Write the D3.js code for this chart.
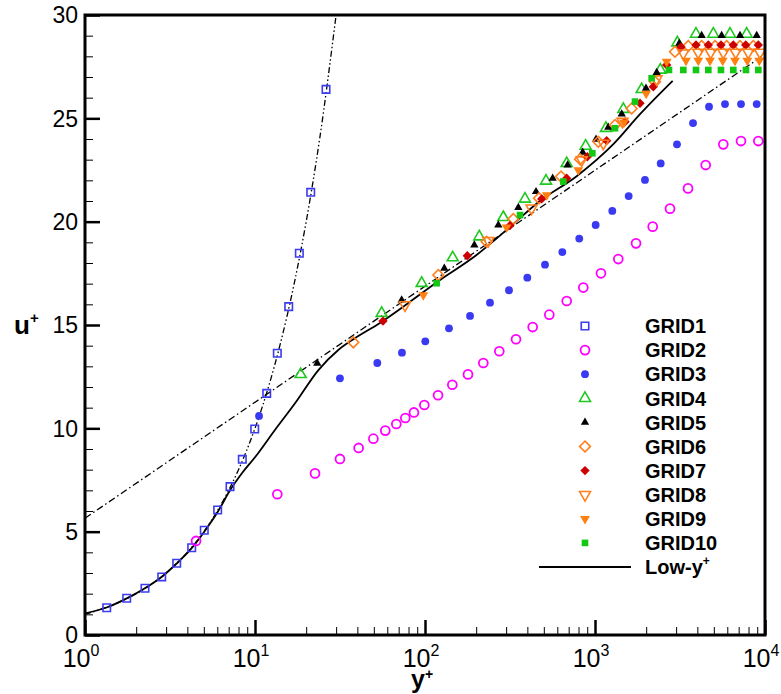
<!DOCTYPE html>
<html>
<head>
<meta charset="utf-8">
<script src="https://cdn.jsdelivr.net/npm/d3@7/dist/d3.min.js"></script>
<style>
  body { margin: 0; background: #fff; }
  svg { display: block; font-family: "Liberation Sans", Arial, sans-serif; }
</style>
</head>
<body>
<svg id="chart" width="781" height="694"></svg>
<script>
// Mean velocity profiles u+ vs y+ for ten grids, [y+, u+]
const grid1 = [[1.342,1.32],[1.759,1.78],[2.254,2.26],[2.827,2.81],[3.463,3.47],[4.242,4.22],[5.03,5.07],[6.03,6.05],[7.13,7.18],[8.42,8.50],[9.96,9.97],[11.72,11.69],[13.53,13.63],[15.79,15.89],[18.23,18.47],[21.27,21.42],[26.17,26.40]];
const grid2 = [[4.50,4.55],[13.53,6.81],[22.54,7.82],[31.6,8.52],[40.7,9.05],[49.7,9.50],[58.4,9.89],[67.8,10.21],[76.6,10.50],[86.1,10.77],[99.1,11.13],[119.3,11.60],[144.8,12.11],[179,12.61],[220.3,13.16],[273.6,13.73],[343,14.31],[430,14.90],[538.5,15.50],[681.6,16.16],[853.5,16.81],[1084,17.50],[1371,18.19],[1743,18.95],[2185,19.76],[2762,20.63],[3525,21.61],[4479,22.74],[5685,23.74],[7225,23.90],[9134,23.90]];
const grid3 = [[10.56,10.60],[31.6,12.42],[52.4,13.16],[73.2,13.66],[100.4,14.21],[138.4,14.84],[184,15.44],[241.2,16.08],[311.9,16.68],[399.8,17.29],[508,17.92],[642.4,18.53],[808,19.18],[1009,19.84],[1264,20.52],[1578,21.24],[1968,22.02],[2435,22.82],[3036,23.74],[3772,24.77],[4685,25.56],[5817,25.69],[7225,25.69],[8935,25.69]];
const grid4 = [[18.56,12.61],[55.6,15.57],[95.6,17.02],[145.5,18.26],[208.7,19.27],[288.9,20.21],[387.3,21.10],[515,21.97],[681.6,22.82],[881,23.66],[1160,24.52],[1468,25.44],[1882,26.40],[2423,27.34],[3050,28.66],[3927,29.08],[4966,29.08],[6223,29.08],[7801,29.08]];
const grid5 = [[23.25,13.15],[72.9,16.21],[129.9,17.74],[195.1,18.87],[270,19.84],[354,20.68],[449.8,21.45],[563.6,22.10],[690,22.74],[846.5,23.36],[1014,23.98],[1197,24.56],[1436,25.21],[1995,26.45],[2306,27.21],[3134,28.63],[4241,29.0],[5559,29.0],[7129,29.0],[8935,29.0]];
const grid6 = [[37.87,14.16],[119.8,17.42],[230.5,19.03],[330.8,20.13],[468.3,21.13],[631,22.18],[816,23.02],[1046,23.87],[1311,24.68],[1643,25.48],[2254,26.77],[2955,28.22],[3539,28.5],[4243,28.5],[5080,28.5],[5953,28.5],[7127,28.5],[8535,28.5]];
const grid7 = [[56.6,15.19],[177.4,18.35],[316,19.81],[485.7,21.10],[681,22.10],[901,23.14],[1171,23.92],[1502,24.84],[1839,25.73],[2203,26.53],[2640,27.58],[3206,28.45],[3927,28.55],[4641,28.55],[5508,28.55],[6510,28.55],[7700,28.55],[9134,28.55]];
const grid8 = [[76.3,15.97],[235.8,19.08],[423.6,20.65],[835,22.98],[1119,23.79],[1450,24.85],[2300,26.9],[3307,28.15],[4051,28.19],[4793,28.19],[5685,28.19],[6724,28.19],[7977,28.19],[9346,28.19]];
const grid9 = [[97.8,16.45],[302,19.73],[520,21.29],[798,22.50],[1480,24.8],[2000,26.2],[2640,27.74],[3430,27.79],[4051,27.79],[4748,27.79],[5638,27.79],[6661,27.79],[7869,27.79],[9258,27.79]];
const grid10 = [[117.1,17.02],[362.2,20.32],[651,21.94],[964.6,23.31],[1311,24.52],[1719,25.81],[2154,26.94],[2724,27.34],[3307,27.34],[3927,27.34],[4641,27.34],[5508,27.34],[6510,27.34],[7727,27.34],[9134,27.34]];

// Low-y+ model profile
const lowYPlus = [[1,1.05],[1.34,1.33],[1.76,1.77],[2.25,2.26],[2.83,2.82],[3.46,3.46],[4.24,4.2],[5.03,5.0],[6.03,5.95],[7.13,7.0],[8.42,7.85],[10,8.6],[13.1,9.92],[17.2,11.21],[23.6,12.82],[30.9,13.79],[38.7,14.36],[54.4,15.1],[122.5,17.18],[201,18.39],[302,19.6],[474,21.0],[780,22.2],[1282,23.75],[1840,25.2],[2863,26.81]];
// Viscous sublayer u+ = y+
const viscousLaw = [[1,1],[1.5,1.5],[2,2],[3,3],[4,4],[5,5],[6,6],[7,7],[8,8],[10,10],[12,12],[14,14],[17,17],[20,20],[24,24],[30,30]];
// Log law
const logLaw = [[1,5.65],[10000,28.1]];

const seriesNames = ["GRID1","GRID2","GRID3","GRID4","GRID5","GRID6","GRID7","GRID8","GRID9","GRID10"];
const yTickValues = [0,5,10,15,20,25,30];
const xTickValues = [1,10,100,1000,10000];
const xTickExponents = ["0","1","2","3","4"];

const allSeries = [grid1,grid2,grid3,grid4,grid5,grid6,grid7,grid8,grid9,grid10];

const markerStyles = [
  {shape:"square",   size:56, fill:"none",    stroke:"#3b3bf0", sw:1.6},
  {shape:"circle",   size:62, fill:"none",    stroke:"#ff00ff", sw:1.8},
  {shape:"circle",   size:48, fill:"#3a3af2", stroke:"none",    sw:0},
  {shape:"triangle", size:52, fill:"none",    stroke:"#1ec81e", sw:1.6},
  {shape:"triangle", size:30, fill:"#000",    stroke:"none",    sw:0},
  {shape:"diamond",  size:58, fill:"none",    stroke:"#ff7f1e", sw:1.6},
  {shape:"diamond",  size:44, fill:"#cc0000", stroke:"none",    sw:0},
  {shape:"down",     size:52, fill:"none",    stroke:"#ff7f1e", sw:1.6},
  {shape:"down",     size:42, fill:"#ff7f0f", stroke:"none",    sw:0},
  {shape:"square",   size:44, fill:"#12c812", stroke:"none",    sw:0}
];

const svg = d3.select("#chart");
const x = d3.scaleLog().domain([1, 1e4]).range([85, 765]);
const y = d3.scaleLinear().domain([0, 30]).range([635, 15]);

svg.append("rect").attr("width", 781).attr("height", 694).attr("fill", "#fff");

svg.append("defs").append("clipPath").attr("id", "plotClip")
  .append("rect").attr("x", 85).attr("y", 15).attr("width", 680).attr("height", 620);

function symbolPath(shape, size) {
  if (shape === "square") return d3.symbol(d3.symbolSquare, size)();
  if (shape === "circle") return d3.symbol(d3.symbolCircle, size)();
  if (shape === "triangle" || shape === "down") return d3.symbol(d3.symbolTriangle, size)();
  return d3.symbol(d3.symbolSquare, size)(); // diamond: rotated square
}
function symbolRotation(shape) {
  if (shape === "down") return 180;
  if (shape === "diamond") return 45;
  return 0;
}

// Axes ticks (inward)
const minorX = x.ticks().filter(v => !xTickValues.includes(v));
const minorY = d3.range(0, 31).filter(v => v % 5 !== 0);

const axesG = svg.append("g");
axesG.append("g").attr("transform", "translate(0,635)")
  .call(d3.axisBottom(x).tickValues(minorX).tickSize(-8).tickFormat(""))
  .call(g => g.select(".domain").remove())
  .call(g => g.selectAll("line").attr("stroke", "#000").attr("stroke-width", 1));
axesG.append("g").attr("transform", "translate(0,635)")
  .call(d3.axisBottom(x).tickValues(xTickValues).tickSize(-15).tickFormat(""))
  .call(g => g.select(".domain").remove())
  .call(g => g.selectAll("line").attr("stroke", "#000").attr("stroke-width", 2.5));
axesG.append("g").attr("transform", "translate(85,0)")
  .call(d3.axisLeft(y).tickValues(minorY).tickSize(-8).tickFormat(""))
  .call(g => g.select(".domain").remove())
  .call(g => g.selectAll("line").attr("stroke", "#000").attr("stroke-width", 1));
axesG.append("g").attr("transform", "translate(85,0)")
  .call(d3.axisLeft(y).tickValues(yTickValues).tickSize(-15).tickFormat(""))
  .call(g => g.select(".domain").remove())
  .call(g => g.selectAll("line").attr("stroke", "#000").attr("stroke-width", 2.5));

// Tick labels
svg.append("g").selectAll("text").data(yTickValues).join("text")
  .attr("x", 78).attr("y", d => y(d)).attr("dy", "0.36em")
  .attr("text-anchor", "end").attr("font-size", 23).attr("fill", "#000")
  .text(d => d);

const xLabels = svg.append("g").selectAll("text").data(xTickValues).join("text")
  .attr("x", d => x(d) - 4).attr("y", 667)
  .attr("text-anchor", "middle").attr("font-size", 25).attr("fill", "#000");
xLabels.append("tspan").text("10");
xLabels.append("tspan").attr("dy", -11).attr("font-size", 16).text((d, i) => xTickExponents[i]);

// Axis titles
const uTitle = svg.append("text").attr("x", 14).attr("y", 334)
  .attr("font-size", 26).attr("font-weight", "bold").attr("fill", "#000");
uTitle.append("tspan").text("u");
uTitle.append("tspan").attr("dy", -11).attr("font-size", 15).text("+");

const yTitle = svg.append("text").attr("x", 411).attr("y", 688)
  .attr("font-size", 25).attr("font-weight", "bold").attr("fill", "#000");
yTitle.append("tspan").text("y");
yTitle.append("tspan").attr("dy", -9).attr("font-size", 14).text("+");

// Reference lines and model curve
const plot = svg.append("g").attr("clip-path", "url(#plotClip)");
const lineGen = d3.line().x(d => x(d[0])).y(d => y(d[1]));

plot.append("path").datum(logLaw).attr("d", lineGen)
  .attr("fill", "none").attr("stroke", "#000").attr("stroke-width", 1.3)
  .attr("stroke-dasharray", "7,3,1.5,3");
plot.append("path").datum(viscousLaw).attr("d", lineGen.curve(d3.curveMonotoneX))
  .attr("fill", "none").attr("stroke", "#000").attr("stroke-width", 1.3)
  .attr("stroke-dasharray", "6,2.5,1.5,2.5,1.5,2.5");
plot.append("path").datum(lowYPlus).attr("d", lineGen.curve(d3.curveMonotoneX))
  .attr("fill", "none").attr("stroke", "#000").attr("stroke-width", 1.8);

// Markers
allSeries.forEach((series, i) => {
  const st = markerStyles[i];
  plot.append("g").selectAll("path").data(series).join("path")
    .attr("d", symbolPath(st.shape, st.size))
    .attr("transform", d => `translate(${x(d[0])},${y(d[1])}) rotate(${symbolRotation(st.shape)})`)
    .attr("fill", st.fill).attr("stroke", st.stroke).attr("stroke-width", st.sw);
});

// Frame
svg.append("rect").attr("x", 85).attr("y", 15).attr("width", 680).attr("height", 620)
  .attr("fill", "none").attr("stroke", "#000").attr("stroke-width", 3);

// Legend
const legend = svg.append("g");
const legendY0 = 326, legendStep = 24.1;
seriesNames.forEach((name, i) => {
  const st = markerStyles[i];
  const ly = legendY0 + i * legendStep;
  legend.append("path")
    .attr("d", symbolPath(st.shape, st.size))
    .attr("transform", `translate(585,${ly}) rotate(${symbolRotation(st.shape)})`)
    .attr("fill", st.fill).attr("stroke", st.stroke).attr("stroke-width", st.sw);
  legend.append("text").attr("x", 645).attr("y", ly).attr("dy", "0.36em")
    .attr("font-size", 20).attr("font-weight", "bold").attr("fill", "#000").text(name);
});
const lastY = legendY0 + seriesNames.length * legendStep;
legend.append("line").attr("x1", 539).attr("x2", 631).attr("y1", lastY).attr("y2", lastY)
  .attr("stroke", "#000").attr("stroke-width", 1.8);
const lowLabel = legend.append("text").attr("x", 645).attr("y", lastY).attr("dy", "0.36em")
  .attr("font-size", 20).attr("font-weight", "bold").attr("fill", "#000");
lowLabel.append("tspan").text("Low-y");
lowLabel.append("tspan").attr("dy", -9).attr("font-size", 12).text("+");
</script>
</body>
</html>
